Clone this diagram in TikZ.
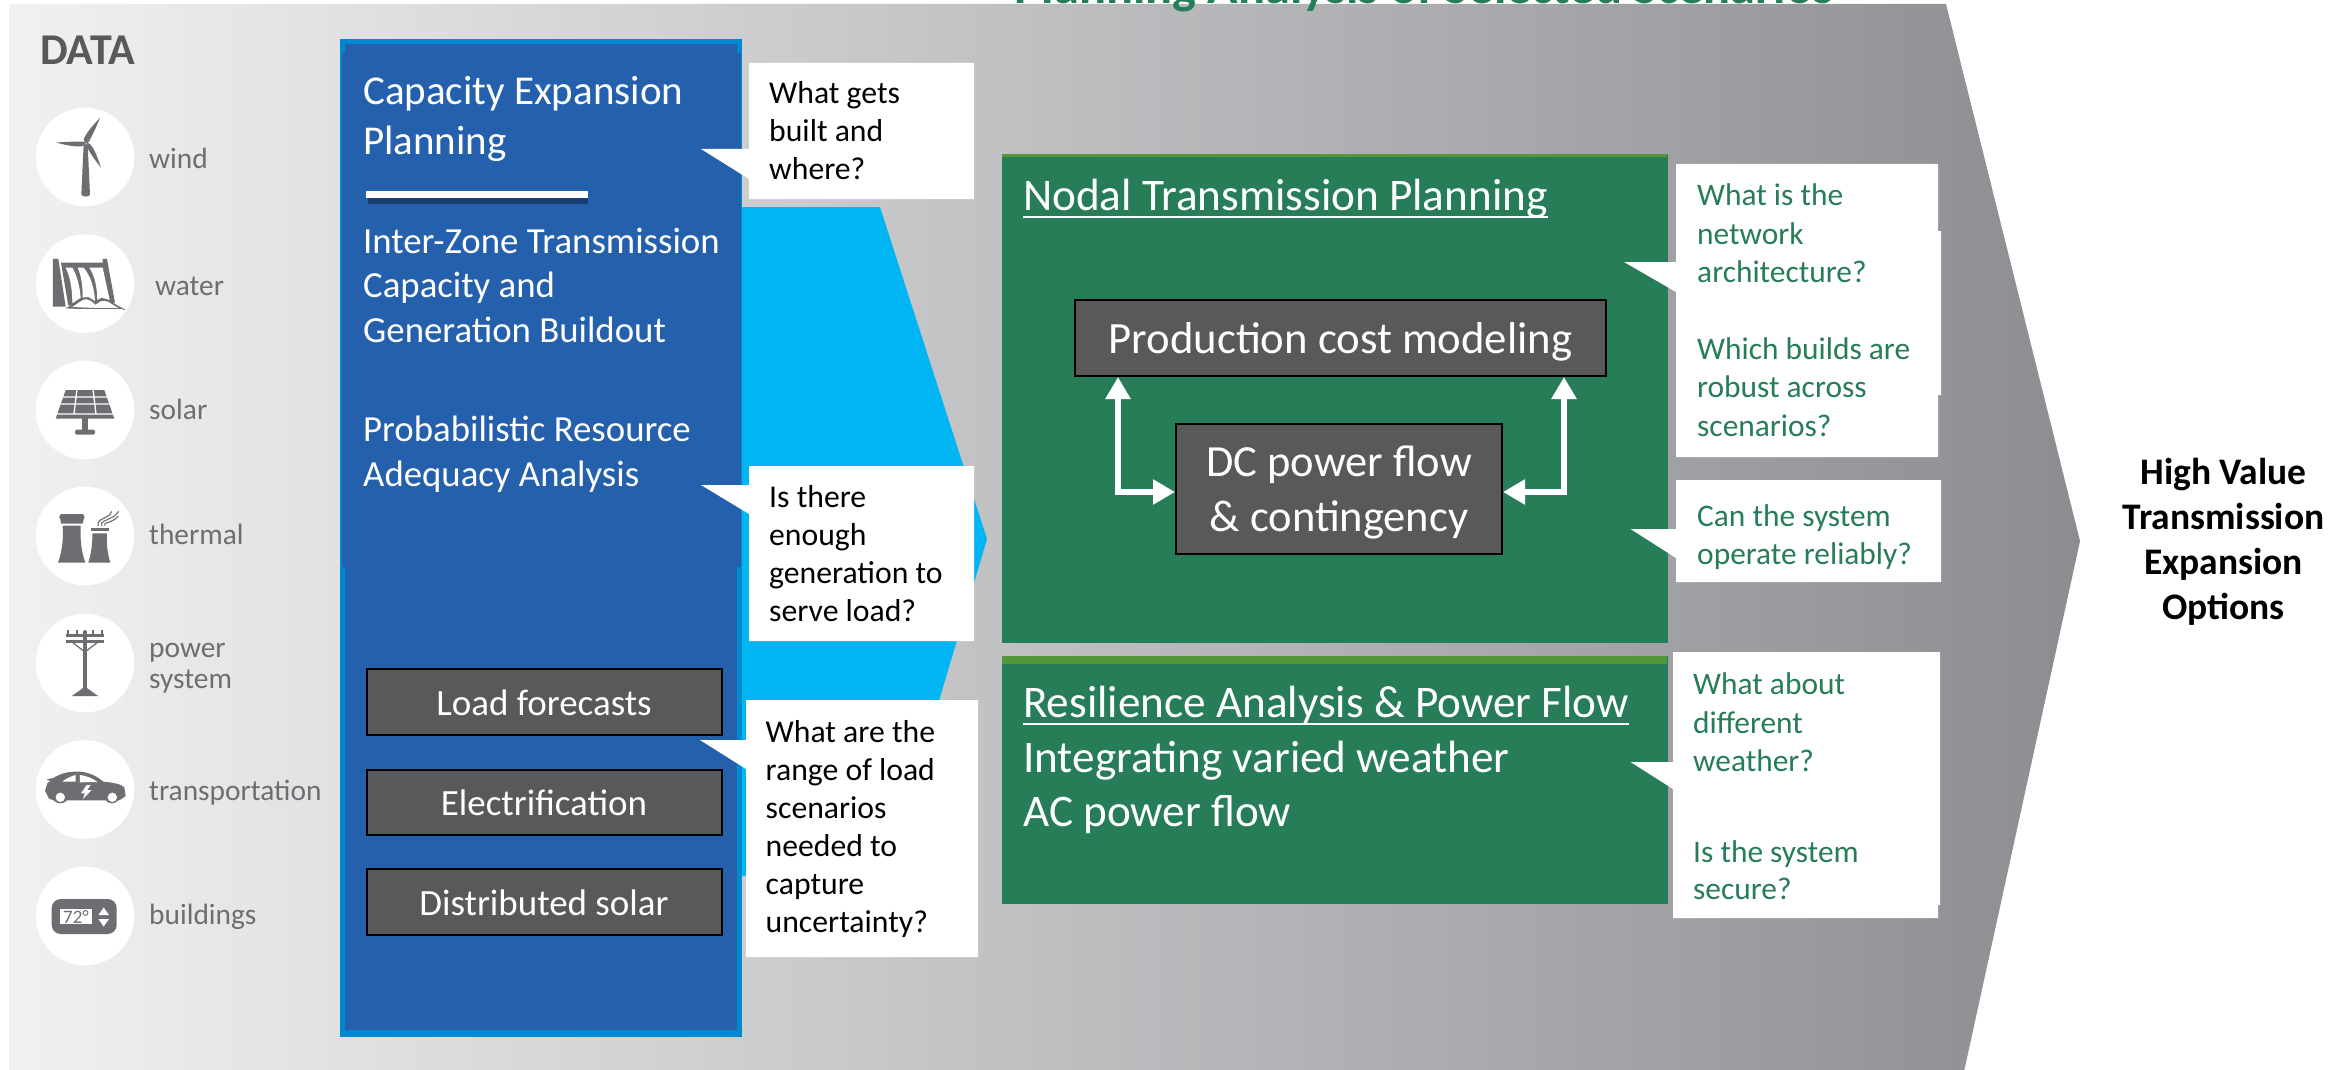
\documentclass[tikz,border=0pt]{standalone}
\usepackage{fontspec}
\setmainfont{Carlito}
\usetikzlibrary{arrows.meta,calc}
\definecolor{outerblue}{HTML}{0088D0}
\definecolor{panelblue}{HTML}{2560AD}
\definecolor{cyanarrow}{HTML}{00B5F1}
\definecolor{nodalgreen}{HTML}{267D57}
\definecolor{bandgreen}{HTML}{55963B}
\definecolor{boxgrey}{HTML}{58595B}
\definecolor{icongrey}{HTML}{6D6E71}
\definecolor{chevleft}{HTML}{F0F1F1}
\definecolor{chevright}{HTML}{8C8D91}
\definecolor{disc}{HTML}{FFFFFF}
\newcommand{\fsz}[2]{\fontsize{#1}{#2}\selectfont}
\tikzset{
  datacirc/.style={circle,fill=disc,minimum size=98.6pt,inner sep=0pt},
  dlabel/.style={anchor=base west,inner sep=0pt,text=icongrey,align=left,font=\fsz{29.4}{31}},
  txt/.style={anchor=base west,inner sep=0pt,align=left},
  bluetxt/.style={txt,text=white,font=\fsz{36.8}{44.6}},
  headtxt/.style={txt,text=white,font=\fsz{41}{50.6}},
  blacktxt/.style={txt,text=black,font=\fsz{31.7}{38}},
  greentxt/.style={txt,text=nodalgreen,font=\fsz{31.4}{38.5}},
  whitetitle/.style={txt,text=white,font=\fsz{45.2}{54}},
  greybox/.style={rectangle,draw=black,line width=2pt,fill=boxgrey,text=white,inner sep=0pt,align=center},
  smallbox/.style={greybox,minimum width=355pt,font=\fsz{37}{40},text height=29pt,text depth=3pt},
  callout/.style={fill=white},
  bi/.style={draw=white,line width=5.5pt,{Triangle[length=22pt,width=24pt]}-{Triangle[length=22pt,width=24pt]},line join=miter},
  icon/.style={fill=icongrey,draw=none}
}
\begin{document}
\begin{tikzpicture}[x=1pt,y=-1pt]
\useasboundingbox (0,0) rectangle (2343,1070);
\clip (0,0) rectangle (2343,1070);
\fill[white] (0,0) rectangle (2343,1070);
% background chevron
\shade[left color=chevleft,right color=chevright]
  (9,4) -- (1946,4) -- (2080,541) -- (1960,1090) -- (9,1090) -- cycle;
% top title (cut by the page edge)
\node[anchor=base,inner sep=0pt,text=nodalgreen,font=\bfseries\fsz{50.4}{54}] (plantitle) at (1424,3.5) {Planning Analysis of Selected Scenarios};
% DATA column
\node[anchor=base west,inner sep=0pt,text=boxgrey,font=\bfseries\fsz{44}{46}] (datahead) at (40,64.5) {DATA};
\node[datacirc] (cwind) at (85,157) {};
\node[datacirc] (cwater) at (85,283.6) {};
\node[datacirc] (csolar) at (85,410) {};
\node[datacirc] (cthermal) at (85,536) {};
\node[datacirc] (cpower) at (85,663) {};
\node[datacirc] (ccar) at (85,789.5) {};
\node[datacirc] (cbuild) at (85,916) {};
\node[dlabel] (lwind) at (149,168.5) {wind};
\node[dlabel] (lwater) at (155,295) {water};
\node[dlabel] (lsolar) at (149,419.5) {solar};
\node[dlabel] (lthermal) at (149,544.5) {thermal};
\node[dlabel] (lpower) at (149,657) {power};
\node[dlabel] (lsystem) at (149,688.5) {system};
\node[dlabel] (lcar) at (149,800) {transportation};
\node[dlabel] (lbuild) at (149,924.5) {buildings};
% wind icon
\begin{scope}[shift={(35,105)},x=.3333pt,y=-.3333pt]
\fill[icon] (146,118) -- (158,118) -- (165,268) .. controls (165,277) and (139,277) .. (139,268) -- cycle;
\fill[icon] (146,104) .. controls (152,85) and (175,60) .. (195,38) .. controls (185,65) and (172,90) .. (162,110) -- (152,116) -- cycle;
\fill[icon] (148,110) .. controls (115,110) and (85,110) .. (65,113) .. controls (90,120) and (120,126) .. (140,124) -- (152,118) -- cycle;
\fill[icon] (156,112) .. controls (175,120) and (185,150) .. (198,188) .. controls (180,165) and (165,145) .. (154,122) -- cycle;
\end{scope}
% water icon
\begin{scope}[shift={(35,235)},x=.3333pt,y=-.3333pt]
\fill[icon] (54,72) -- (70,72) -- (92,215) -- (54,215) -- cycle;
\fill[icon] (78,83) -- (203,83) -- (203,72) -- (216,72) -- (240,203) -- (100,212) -- cycle;
\fill[disc] (92,98) -- (112,98) .. controls (128,125) and (135,160) .. (137,188) -- (112,205) .. controls (112,160) and (105,125) .. (92,98) -- cycle;
\fill[disc] (128,98) -- (146,98) .. controls (168,125) and (178,160) .. (180,198) -- (160,186) -- (143,188) .. controls (143,155) and (140,125) .. (128,98) -- cycle;
\fill[disc] (163,98) -- (203,98) -- (224,195) -- (200,188) -- (187,195) .. controls (186,155) and (180,125) .. (163,98) -- cycle;
\draw[icongrey,line width=1.6pt,fill=disc] (100,218) .. controls (120,212) and (130,195) .. (150,190) .. controls (165,190) and (175,200) .. (182,206) .. controls (195,190) and (220,192) .. (235,207) -- (262,222) -- (190,222) -- cycle;
\fill[disc] (95,222) rectangle (265,232);
\end{scope}
% solar icon
\fill[icon] (65.7,390) -- (104.3,390) -- (114.3,418.6) -- (55.7,418.6) -- cycle;
\draw[disc,line width=1.3pt] (62,397) -- (108,397) (60,404) -- (110,404) (56,414) -- (114,414)
  (77,389) -- (74,414) (93,389) -- (96,414);
\fill[icon] (81.7,418) rectangle (88.3,430);
\fill[icon,rounded corners=1.5pt] (75,429.5) rectangle (95,434.5);
% thermal icon
\begin{scope}[shift={(35,486)},x=.3333pt,y=-.3333pt]
\fill[icon] (78,84) -- (144,84) .. controls (150,90) and (150,96) .. (146,100) -- (143,113) -- (78,113) -- (76,100) .. controls (71,96) and (71,90) .. (78,84) -- cycle;
\fill[icon] (83,119) -- (137,119) .. controls (135,165) and (140,200) .. (151,230) -- (69,230) .. controls (80,200) and (86,165) .. (83,119) -- cycle;
\fill[icon] (168,125) -- (221,125) -- (221,136) -- (168,136) -- cycle;
\fill[icon] (172,142) -- (216,142) .. controls (214,175) and (218,205) .. (226,230) -- (160,230) .. controls (168,205) and (173,175) .. (172,142) -- cycle;
\draw[icongrey,line width=1.1pt] (190,120) .. controls (185,100) and (205,100) .. (215,92) .. controls (225,88) and (228,82) .. (230,76);
\draw[icongrey,line width=1.1pt] (200,120) .. controls (195,105) and (212,105) .. (225,97) .. controls (238,92) and (246,85) .. (251,76);
\draw[icongrey,line width=1.1pt] (208,118) .. controls (208,110) and (220,110) .. (230,105) .. controls (240,100) and (246,96) .. (250,90);
\end{scope}
% power icon
\fill[icon] (83,631) rectangle (87,692);
\fill[icon] (71.7,696) .. controls (78,692) and (80,690) .. (83,688) -- (87,688) .. controls (90,690) and (92,692) .. (98.3,696) -- cycle;
\fill[icon] (66,634) rectangle (104,637);
\fill[icon] (66,640) rectangle (104,643);
\draw[icongrey,line width=1.3pt] (72,642) -- (85,652) -- (98,642);
\foreach \xx in {68,77,85,93,102}{\fill[icon] (\xx-.8,630) rectangle (\xx+.8,635);}
% car icon
\begin{scope}[shift={(35,740)},x=.3333pt,y=-.3333pt]
\fill[icon] (30,152) -- (38,128) -- (46,124) -- (35,118) -- (55,114) .. controls (80,98) and (105,94) .. (135,95) .. controls (165,97) and (190,112) .. (205,125) .. controls (235,128) and (258,132) .. (268,142) -- (272,168) -- (258,178) -- (250,181) .. controls (240,193) and (222,193) .. (212,181) -- (96,181) .. controls (86,193) and (66,193) .. (56,181) -- (42,176) -- cycle;
\fill[disc] (76,172) circle[radius=14];
\fill[disc] (232,172) circle[radius=14];
\fill[disc] (82,125) .. controls (95,114) and (110,108) .. (122,105) -- (122,125) -- cycle;
\fill[disc] (135,105) .. controls (155,107) and (172,115) .. (188,126) -- (135,127) -- cycle;
\fill[disc] (155,135) -- (138,160) -- (150,160) -- (143,178) -- (170,150) -- (157,150) -- (167,135) -- cycle;
\end{scope}
% thermostat icon
\fill[icon,rounded corners=9pt] (51.7,899) rectangle (116.7,934);
\fill[disc] (60,908.5) rectangle (91.7,924.4);
\node[inner sep=0pt,text=icongrey,font=\fsz{19}{20}] (tstat) at (76,916.5) {72°};
\fill[disc] (103.7,907.5) -- (109,915) -- (98.4,915) -- cycle;
\fill[disc] (103.7,926.5) -- (109,919) -- (98.4,919) -- cycle;
% cyan arrow
\fill[cyanarrow] (742,207) -- (880,207) -- (987,539) -- (887,876) -- (742,876) -- cycle;
% blue panel
\fill[outerblue] (340,39) rectangle (742,1037);
\fill[panelblue] (345,44) rectangle (737,1030);
\fill[panelblue] (342,53) rectangle (741,567);
% panel heading
\node[headtxt] (cap) at (363,155) {Capacity Expansion\\Planning};
\fill[panelblue!65!black] (368,198) rectangle (588,204);
\fill[white] (366,191) rectangle (588,198);
\node[bluetxt] (inter) at (363,342.5) {Inter-Zone Transmission\\Capacity and\\Generation Buildout};
\node[bluetxt] (prob) at (363,486.5) {Probabilistic Resource\\Adequacy Analysis};
\node[smallbox,minimum height=66pt] (load) at (544,702) {Load forecasts};
\node[smallbox,minimum height=65pt] (elec) at (544,802) {Electrification};
\node[smallbox,minimum height=66pt] (dist) at (544,902) {Distributed solar};
% left callouts
\fill[callout] (749,63) -- (974,63) -- (974,199) -- (749,199) -- (749,179) -- (701,149) -- (749,149) -- cycle;
\node[blacktxt] (q1) at (769,179) {What gets\\built and\\where?};
\fill[callout] (749,466) -- (974,466) -- (974,641) -- (749,641) -- (749,514) -- (701,485) -- (749,485) -- cycle;
\node[blacktxt] (q2) at (769,621) {Is there\\enough\\generation to\\serve load?};
\fill[callout] (746,700) -- (978,700) -- (978,957) -- (746,957) -- (746,769) -- (700,740) -- (746,740) -- cycle;
\node[blacktxt] (q3) at (765.5,932) {What are the\\range of load\\scenarios\\needed to\\capture\\uncertainty?};
% Nodal panel
\fill[nodalgreen] (1002,154) rectangle (1667.5,643);
\fill[bandgreen] (1002,154) rectangle (1667,157);
\node[whitetitle] (nodal) at (1023,210.5) {Nodal Transmission Planning};
\draw[white,line width=2pt] ([yshift=-6pt]nodal.base west) -- ([yshift=-6pt]nodal.base east);
\node[greybox,minimum width=531pt,minimum height=76pt,font=\fsz{44.7}{48},text height=32pt,text depth=2pt] (prod) at (1340.5,338) {Production cost modeling};
\node[greybox,minimum width=326pt,minimum height=130pt,font=\fsz{44.5}{54.4},text height=86pt,text depth=2pt] (dc) at (1339,489) {DC power flow\\\& contingency};
\coordinate (dcl) at ([yshift=-3pt]dc.west);
\coordinate (dcr) at ([yshift=-3pt]dc.east);
\coordinate (pl) at ([xshift=44pt]prod.south west);
\coordinate (pr) at ([xshift=-43pt]prod.south east);
\draw[bi] (pl) |- (dcl);
\draw[bi] (pr) |- (dcr);
% right callouts
\fill[callout] (1676,164) -- (1938,164) -- (1938,231) -- (1941,231) -- (1941,395) -- (1938,395) -- (1938,457) -- (1676,457) -- (1676,292) -- (1624,262) -- (1676,262) -- cycle;
\node[greentxt] (q4) at (1697,282.5) {What is the\\network\\architecture?};
\node[greentxt] (q5) at (1697,436) {Which builds are\\robust across\\scenarios?};
\fill[callout] (1676,480) -- (1941,480) -- (1941,582) -- (1676,582) -- (1676,558) -- (1630.5,529) -- (1676,529) -- cycle;
\node[greentxt,font=\fsz{31.4}{37.5}] (q6) at (1697,564) {Can the system\\operate reliably?};
% Resilience panel
\fill[nodalgreen] (1002,656) rectangle (1667.5,904);
\fill[bandgreen] (1002,656) rectangle (1667,664);
\node[whitetitle] (res) at (1023,717.5) {Resilience Analysis \& Power Flow};
\draw[white,line width=2pt] ([yshift=-6pt]res.base west) -- ([yshift=-6pt]res.base east);
\node[whitetitle] (integ) at (1023,826) {Integrating varied weather\\AC power flow};
\fill[callout] (1673,652) -- (1940,652) -- (1940,905) -- (1938,905) -- (1938,918) -- (1673,918) -- (1673,789) -- (1630.5,762) -- (1673,762) -- cycle;
\node[greentxt] (q7) at (1693,771.5) {What about\\different\\weather?};
\node[greentxt,font=\fsz{31.4}{37}] (q8) at (1693,899) {Is the system\\secure?};
% result
\node[anchor=base,inner sep=0pt,align=center,text=black,font=\bfseries\fsz{37.5}{45}] (result) at (2223.5,619.5) {High Value\\Transmission\\Expansion\\Options};
\end{tikzpicture}
\end{document}
